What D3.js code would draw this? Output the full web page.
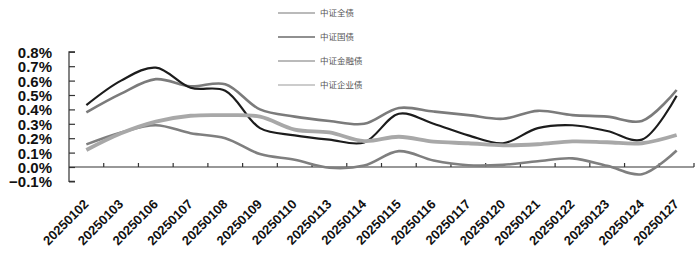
<!DOCTYPE html>
<html>
<head>
<meta charset="utf-8">
<script src="https://cdn.jsdelivr.net/npm/d3@7"></script>
<style>
  body { margin: 0; background: #fff; }
  svg { display: block; }
</style>
</head>
<body>
<div id="chart"></div>
<script>
// categories (trading days)
const dates = ['20250102', '20250103', '20250106', '20250107', '20250108', '20250109',
  '20250110', '20250113', '20250114', '20250115', '20250116', '20250117',
  '20250120', '20250121', '20250122', '20250123', '20250124', '20250127']

const seriesNames = ['中证全债', '中证国债', '中证金融债', '中证企业债']

// values in %
const quanzhai = [0.38, 0.51, 0.61, 0.56, 0.575, 0.40, 0.35, 0.32, 0.30, 0.41, 0.385, 0.36, 0.335, 0.39, 0.36, 0.35, 0.32, 0.535]
const guozhai = [0.43, 0.60, 0.69, 0.55, 0.53, 0.27, 0.22, 0.19, 0.17, 0.37, 0.30, 0.22, 0.165, 0.27, 0.29, 0.25, 0.19, 0.495]
const jinrong = [0.157, 0.24, 0.29, 0.235, 0.20, 0.09, 0.05, -0.005, 0.01, 0.11, 0.045, 0.012, 0.015, 0.04, 0.06, 0.008, -0.05, 0.115]
const qiye = [0.118, 0.234, 0.315, 0.356, 0.36, 0.35, 0.26, 0.24, 0.18, 0.21, 0.176, 0.165, 0.15, 0.158, 0.178, 0.172, 0.165, 0.222]

const yTicks = [-0.1, 0, 0.1, 0.2, 0.3, 0.4, 0.5, 0.6, 0.7, 0.8]

const series = [
  { name: seriesNames[0], values: quanzhai, color: '#7b7b7b', width: 2.6 },
  { name: seriesNames[1], values: guozhai, color: '#1c1c1c', width: 2.2 },
  { name: seriesNames[2], values: jinrong, color: '#7f7f7f', width: 2.6 },
  { name: seriesNames[3], values: qiye, color: '#a8a8a8', width: 3.8 },
]

const W = 700, H = 262
const svg = d3.select('#chart').append('svg').attr('width', W).attr('height', H)

const x = d3.scaleBand().domain(dates).range([69, 694])
const y = d3.scaleLinear().domain([-0.1, 0.8]).range([181.4, 51.8])

// y axis
const yAxis = svg.append('g').attr('transform', 'translate(69,0)')
  .call(d3.axisRight(y).tickValues(yTicks).tickSize(6).tickFormat(d => d3.format('.1f')(d) + '%'))
yAxis.select('.domain').attr('stroke', '#333').attr('stroke-width', 1.2)
  .attr('d', `M6,${y(0.8)}H0V${y(-0.1)}H6`)
yAxis.selectAll('.tick line').attr('stroke', '#333').attr('stroke-width', 1.2)
yAxis.selectAll('.tick text')
  .attr('x', -17).attr('text-anchor', 'end').attr('dy', '0.36em')
  .attr('font-family', 'Liberation Sans, Arial, sans-serif')
  .attr('font-weight', 'bold').attr('font-size', 15).attr('fill', '#111')

// x axis at zero
const xAxis = svg.append('g').attr('transform', `translate(0,${y(0)})`)
xAxis.append('line').attr('x1', 69).attr('x2', 694).attr('stroke', '#333').attr('stroke-width', 1.2)
xAxis.selectAll('.xt').data(dates.slice(1).concat(['end']))
  .enter().append('line')
  .attr('x1', (d, i) => 69 + x.step() * (i + 1)).attr('x2', (d, i) => 69 + x.step() * (i + 1))
  .attr('y1', 0).attr('y2', -4).attr('stroke', '#333').attr('stroke-width', 1.2)

svg.append('g').selectAll('text').data(dates).enter().append('text')
  .attr('transform', d => `translate(${x(d) + x.bandwidth() / 2 + 3},205) rotate(-45)`)
  .attr('text-anchor', 'end')
  .attr('font-family', 'Liberation Sans, Arial, sans-serif')
  .attr('font-weight', 'bold').attr('font-size', 13).attr('fill', '#111')
  .text(d => d)

// lines
const line = d3.line()
  .x((d, i) => x(dates[i]) + x.bandwidth() / 2)
  .y(d => y(d))
  .curve(d3.curveCatmullRom.alpha(0.5))

svg.append('g').selectAll('path').data(series).enter().append('path')
  .attr('fill', 'none')
  .attr('stroke', d => d.color)
  .attr('stroke-width', d => d.width)
  .attr('stroke-linejoin', 'round')
  .attr('d', d => line(d.values))

// legend
const legend = svg.append('g').selectAll('g').data(series).enter().append('g')
  .attr('transform', (d, i) => `translate(278,${13 + i * 24})`)
legend.append('line').attr('x1', 0).attr('x2', 37)
  .attr('stroke', (d, i) => i === 1 ? '#222' : (i === 3 ? '#999' : '#777'))
  .attr('stroke-width', 1.2)
legend.append('text').attr('x', 42).attr('dy', '0.35em')
  .attr('font-family', 'Noto Sans CJK SC, sans-serif')
  .attr('font-size', 8.5).attr('fill', '#555')
  .text(d => d.name)
</script>
</body>
</html>
